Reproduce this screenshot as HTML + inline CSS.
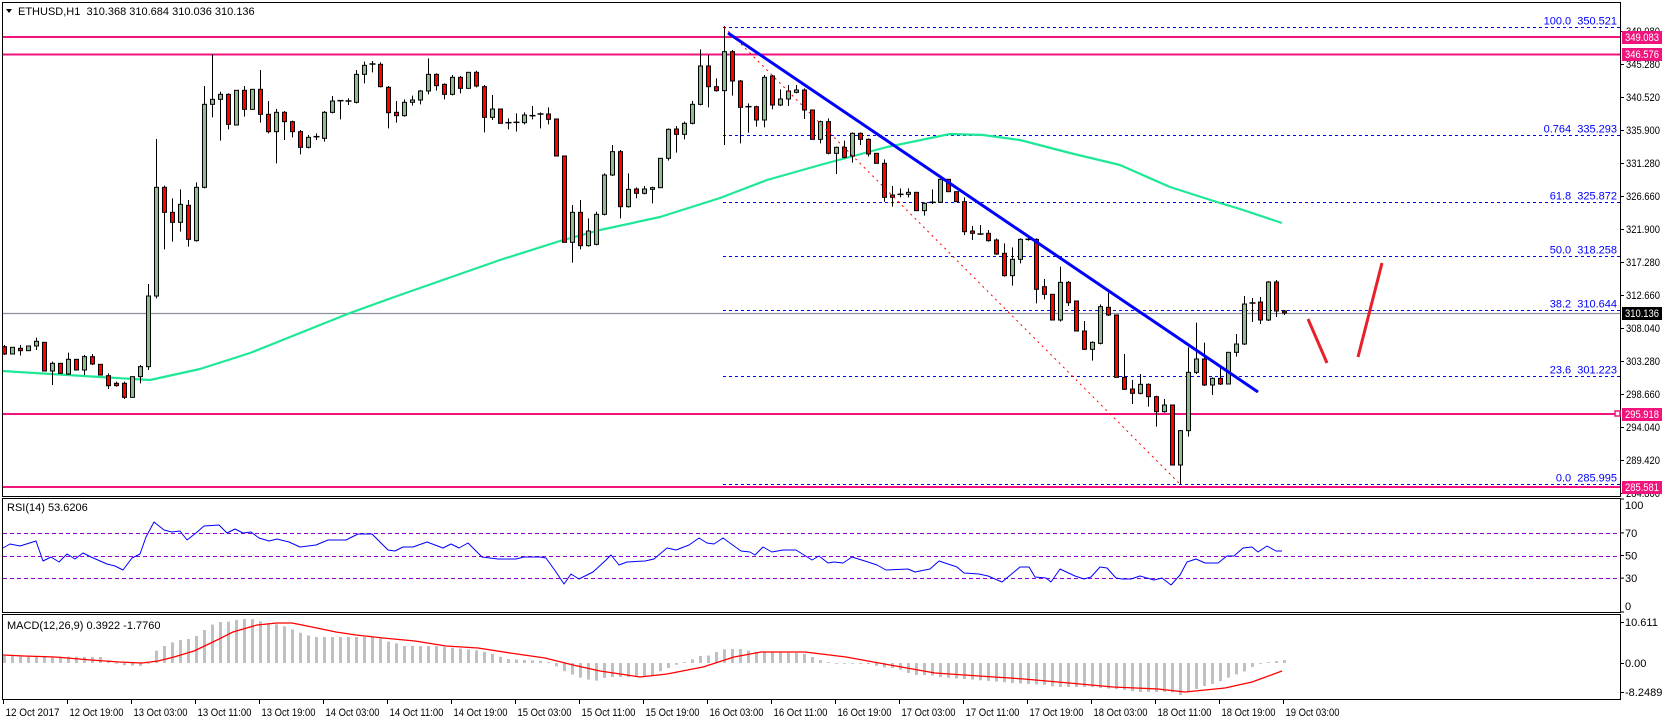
<!DOCTYPE html>
<html><head><meta charset="utf-8"><style>
html,body{margin:0;padding:0;background:#fff;}
svg{display:block;font-family:"Liberation Sans",sans-serif;font-size:11px;}
</style></head><body>
<svg id="s" width="1663" height="720" xmlns="http://www.w3.org/2000/svg">
<rect x="0" y="0" width="1663" height="720" fill="#fff"/>
</svg>
<script>
const S=document.getElementById('s');let h='';
function L(x1,y1,x2,y2,c,w,d){h+=`<line x1="${x1}" y1="${y1}" x2="${x2}" y2="${y2}" stroke="${c}" stroke-width="${w||1}"${d?` stroke-dasharray="${d}"`:''}/>`;}
function T(x,y,t,c,a,tl){h+=`<text x="${x}" y="${y}" fill="${c||'#000'}"${a?` text-anchor="${a}"`:''}${tl?` textLength="${tl}" lengthAdjust="spacingAndGlyphs"`:''}>${t}</text>`;}
function P(pts,c,w){h+=`<polyline points="${pts.map(p=>p.join(',')).join(' ')}" fill="none" stroke="${c}" stroke-width="${w}" stroke-linejoin="round"/>`;}
const py=p=>64+(345.28-p)*7.089;
const fib=[['100.0','350.521'],['0.764','335.293'],['61.8','325.872'],['50.0','318.258'],['38.2','310.644'],['23.6','301.223'],['0.0','285.995']];
fib.forEach(f=>{const y=Math.round(py(+f[1]))+0.5;L(723,y,1620,y,'#0000ff',1,'3,3');T(1617,y-3,f[0]+'&#160;&#160;'+f[1],'#0000ff','end');});
L(2,313.5,1620,313.5,'#8a8f99',1.3);
[37,54.5,414,487].forEach(y=>L(2,y,1620,y,'#f0147c',2));
P([[2,371],[100,377],[150,380],[200,369],[250,353],[300,333],[350,313],[400,295],[500,260],[560,241],[600,230],[660,217],[720,198],[767,180],[820,165],[887,147],[950,134],[983,135],[1020,140],[1070,153],[1120,165],[1170,187],[1220,203],[1240,209],[1282,223]],'#1ee896',2.2);
const C=`r 1040 1062 1035 1065|g 1042 1062|r 1045 1052 1035 1067|g 1038 1052|g 1024 1038 1013 1050|r 1027 1113|g 1090 1113 1085 1155|r 1090 1120|g 1078 1122 1058 1125|r 1078 1110|g 1070 1110 1065 1125|r 1070 1092 1062 1095|r 1093 1125|r 1127 1157 1120 1167|r 1150 1157 1145 1160|r 1150 1192 1145 1197|g 1130 1192|g 1100 1130 1095 1150|g 888 1100 852 1110|g 562 888 417 895|r 562 637 557 748|r 637 667 595 725|g 613 667 568 695|r 616 718 600 740|g 562 722 547 725|g 313 562 258 565|g 298 313 163 352|g 283 298 275 422|r 283 373 280 388|g 271 375|r 271 328 258 350|g 268 328|r 268 343 210 368|r 343 395 303 400|g 337 395 327 490|r 337 365 333 420|r 365 395 362 412|r 395 442 390 463|g 412 442 405 445|d 410 410 400 420|g 337 415 333 425|g 303 337 288 340|d 302 302 300 358|d 303 303 295 315|g 223 307 210 310|g 196 223 185 250|d 192 192 183 217|r 193 260 187 262|r 262 338 258 385|r 337 347 303 368|g 307 347 298 350|g 300 307 287 317|g 273 300 270 313|g 223 273 175 283|r 223 257 220 272|r 253 283 250 298|g 232 283 225 286|r 232 265 228 280|g 217 265|r 217 258 212 262|r 260 352 255 397|g 327 352 285 360|r 327 370|d 368 368 355 388|d 367 367 340 395|g 345 368 337 373|d 347 347 318 358|d 342 342 337 385|r 342 358 322 373|r 357 468|r 468 727|g 637 727 615 788|r 637 737 600 748|g 693 737 655 740|g 643 733 635 736|g 525 643 520 646|g 455 525 435 528|r 455 620 450 655|g 568 620 520 623|r 567 580 562 595|g 567 580 558 583|g 563 568 560 610|g 475 563|g 388 475 385 482|r 387 403 378 458|g 370 403 365 418|g 313 370 303 373|g 198 313 148 316|r 198 260 165 322|r 260 272 235 275|g 155 272 78 435|r 155 243 150 287|r 243 322 240 430|d 320 320 310 398|r 320 360 317 380|g 232 360 225 382|r 228 315 225 328|g 297 315 268 318|g 273 297 255 318|g 270 277 255 280|r 270 330 265 357|r 330 418|g 365 418 362 430|r 365 460 355 463|g 442 460 440 522|r 442 472 422 475|g 400 468 397 488|r 400 418 397 435|r 418 462 415 470|r 460 490|r 490 592 478 605|r 585 592 558 620|d 583 583 565 592|g 577 583 565 592|r 577 632|g 610 632 607 647|d 607 607 568 612|g 538 607|r 538 575|r 575 605|r 605 695 592 705|r 693 700 678 720|d 702 702 675 705|r 700 722 690 725|r 720 762 715 765|r 760 827 730 830|g 778 827 742 857|g 718 778 715 790|d 718 718 713 722|r 718 868 715 910|r 860 883 837 898|r 883 960|g 847 960 800 965|r 847 908 843 918|r 903 993|r 993 1048 963 1050|g 1027 1048 1024 1082|g 920 1030 913 1033|r 922 945 878 948|r 945 1132|r 1132 1168 1062 1170|r 1167 1180 1140 1212|g 1153 1180 1122 1183|r 1153 1190 1150 1220|r 1190 1235 1187 1280|g 1215 1235 1197 1238|r 1215 1395|g 1292 1395 1290 1452|g 1117 1292 1042 1310|g 1077 1117 968 1122|r 1077 1155 1028 1158|g 1135 1155 1132 1185|r 1135 1152 1098 1155|g 1057 1152|g 1032 1057 1002 1070|g 912 1032 888 1035|d 909 909 894 966|r 906 960 891 972|g 846 960 843 963|r 846 933 840 951|r 933 939 930 945`.split('|');
C.forEach((s,i)=>{const a=s.split(' ');const c=a[0];const t=+a[1]/3,b=+a[2]/3;const wt=(a[3]?+a[3]:+a[1])/3,wb=(a[4]?+a[4]:+a[2])/3;const x=4+8*i+0.5;
 L(x,wt,x,wb,'#000',1);
 if(c=='d'||b-t<1.5){L(x-3,t,x+3,t,'#000',1.5);}
 else h+=`<rect x="${x-2}" y="${t}" width="4" height="${b-t}" fill="${c=='g'?'#8fbc8f':'#ff0000'}" stroke="#000" stroke-width="1"/>`;
});
L(724,27,1180,484,'#ff0000',1,'2,4');
L(728,33,1258,392,'#0000ff',3);
L(1308,319,1327,363,'#e8202a',3);L(1358,357,1382,263,'#e8202a',3);
h+=`<rect x="2.5" y="2.5" width="1618" height="494" fill="none" stroke="#000"/>`;
h+=`<rect x="2.5" y="498.5" width="1618" height="114" fill="none" stroke="#000"/>`;
h+=`<rect x="2.5" y="614.5" width="1618" height="85" fill="none" stroke="#000"/>`;
h+=`<polygon points="6,9 12,9 9,13" fill="#000"/>`;T(18,15,'ETHUSD,H1&#160;&#160;310.368 310.684 310.036 310.136');
[['349.080',31],['345.280',64],['340.520',97],['335.900',130],['331.280',163],['326.660',196],['321.900',229],['317.280',262],['312.660',295],['308.040',328],['303.280',361],['298.660',394],['294.040',427],['289.420',460],['284.800',493]].forEach(l=>{L(1620,l[1]+.5,1624,l[1]+.5,'#000');T(1626,l[1]+4,l[0],'#000',null,34);});
function box(y,t,bg){h+=`<rect x="1622" y="${y-6}" width="40" height="13" fill="${bg}"/>`;T(1625,y+4,t,'#fff',null,34);}
box(37,'349.083','#f0147c');box(54,'346.576','#f0147c');box(414,'295.918','#f0147c');box(487,'285.581','#f0147c');box(313,'310.136','#000');
h+=`<rect x="1615" y="411" width="5" height="5" fill="#fff" stroke="#f0147c" stroke-width="1.5"/>`;
const ry=v=>612-v*1.13;
[70,50,30].forEach(v=>L(3,Math.round(ry(v))+.5,1620,Math.round(ry(v))+.5,'#9400d3',1,'4,3'));
[['100',100],['70',70],['50',50],['30',30],['0',0]].forEach(l=>{const y=Math.min(Math.max(ry(l[1]),505),606);L(1620,ry(l[1]),1624,ry(l[1]),'#000');T(1625,y+4,l[0]);});
T(7,511,'RSI(14) 53.6206');
P([[3,548],[10,544],[20,546],[36,541],[43,561],[51,557],[59,562],[67,554],[75,559],[83,553],[91,557],[107,564],[115,566],[123,570],[132,558],[140,554],[146,537],[154,522],[164,530],[172,532],[180,531],[187,540],[196,533],[204,526],[219,525],[227,533],[235,529],[243,533],[251,532],[259,538],[269,541],[277,539],[289,542],[300,547],[316,545],[328,540],[346,540],[358,534],[372,534],[388,550],[395,551],[403,547],[413,547],[427,542],[443,548],[451,544],[459,548],[468,543],[482,557],[498,559],[516,559],[524,557],[540,557],[546,558],[556,572],[564,584],[571,574],[579,579],[593,572],[605,561],[611,555],[619,565],[627,562],[645,561],[654,559],[667,548],[676,550],[689,545],[699,538],[707,543],[714,544],[723,538],[741,551],[750,552],[755,555],[763,547],[772,552],[783,550],[796,550],[812,560],[819,556],[828,563],[834,562],[843,563],[852,557],[868,562],[877,565],[886,570],[908,569],[915,572],[930,569],[939,561],[957,567],[964,573],[979,574],[988,576],[1002,582],[1020,567],[1029,567],[1035,577],[1046,578],[1051,582],[1060,569],[1075,576],[1084,579],[1091,577],[1100,567],[1107,568],[1116,578],[1122,579],[1131,579],[1140,576],[1154,580],[1162,578],[1171,585],[1180,575],[1187,562],[1196,559],[1205,563],[1218,563],[1227,556],[1234,556],[1243,548],[1252,547],[1258,552],[1267,546],[1276,551],[1282,551]],'#0000ff',1);
T(7,629,'MACD(12,26,9) 0.3922 -1.7760');
[['10.611',622],['0.00',663],['-8.2489',692]].forEach(l=>{L(1620,l[1]+.5,1624,l[1]+.5,'#000');T(1625,l[1]+4,l[0]);});
const hp=[[0,656],[100,657],[119,665],[142,666],[150,662],[154,652],[162,647],[170,643],[180,640],[188,639],[196,636],[204,630],[211,625],[219,622],[227,622],[235,620],[243,619],[251,619],[259,621],[267,623],[275,624],[283,626],[291,629],[298,632],[306,635],[314,637],[377,637],[385,641],[395,643],[403,646],[435,646],[474,650],[490,653],[498,656],[506,659],[545,661],[553,664],[561,670],[569,673],[577,677],[585,679],[595,681],[603,678],[611,677],[620,677],[636,677],[654,675],[662,670],[671,667],[680,663],[689,661],[698,656],[707,656],[716,652],[725,649],[743,649],[752,652],[796,653],[805,654],[814,658],[823,661],[832,663],[868,664],[877,666],[886,668],[895,668],[904,671],[912,675],[930,675],[939,677],[1002,682],[1011,683],[1046,685],[1055,687],[1091,687],[1100,688],[1127,690],[1136,692],[1171,692],[1180,695],[1189,692],[1198,688],[1207,685],[1216,683],[1225,679],[1234,675],[1243,672],[1252,667],[1261,663],[1270,662],[1284,660]];
function interp(x){for(let k=0;k<hp.length-1;k++){if(x>=hp[k][0]&&x<=hp[k+1][0]){const f=(x-hp[k][0])/(hp[k+1][0]-hp[k][0]||1);return hp[k][1]+f*(hp[k+1][1]-hp[k][1]);}}return hp[hp.length-1][1];}
for(let i=0;i<=160;i++){const x=4+8*i;const y=interp(x);const t=Math.min(y,663),b=Math.max(y,663);h+=`<rect x="${x-1}" y="${t}" width="3" height="${Math.max(b-t,0.8)}" fill="#c0c0c0"/>`;}
P([[3,655],[24,656],[55,657],[91,660],[119,662],[142,663],[158,661],[174,657],[194,651],[213,642],[233,632],[257,625],[277,623],[292,623],[312,627],[336,632],[356,635],[383,638],[415,641],[446,646],[478,648],[510,653],[545,658],[573,665],[600,671],[640,677],[667,674],[703,667],[734,657],[761,652],[805,652],[846,657],[890,665],[935,673],[979,676],[1024,679],[1069,683],[1113,687],[1158,689],[1185,692],[1225,688],[1252,682],[1282,671]],'#ff0000',1.3);
const tl=['12 Oct 2017','12 Oct 19:00','13 Oct 03:00','13 Oct 11:00','13 Oct 19:00','14 Oct 03:00','14 Oct 11:00','14 Oct 19:00','15 Oct 03:00','15 Oct 11:00','15 Oct 19:00','16 Oct 03:00','16 Oct 11:00','16 Oct 19:00','17 Oct 03:00','17 Oct 11:00','17 Oct 19:00','18 Oct 03:00','18 Oct 11:00','18 Oct 19:00','19 Oct 03:00'];
tl.forEach((t,k)=>{const x=3+64*k+.5;L(x,700,x,704,'#000');T(x+2,716,t,'#000',null,54);});
S.innerHTML+=h;
</script>
</body></html>
